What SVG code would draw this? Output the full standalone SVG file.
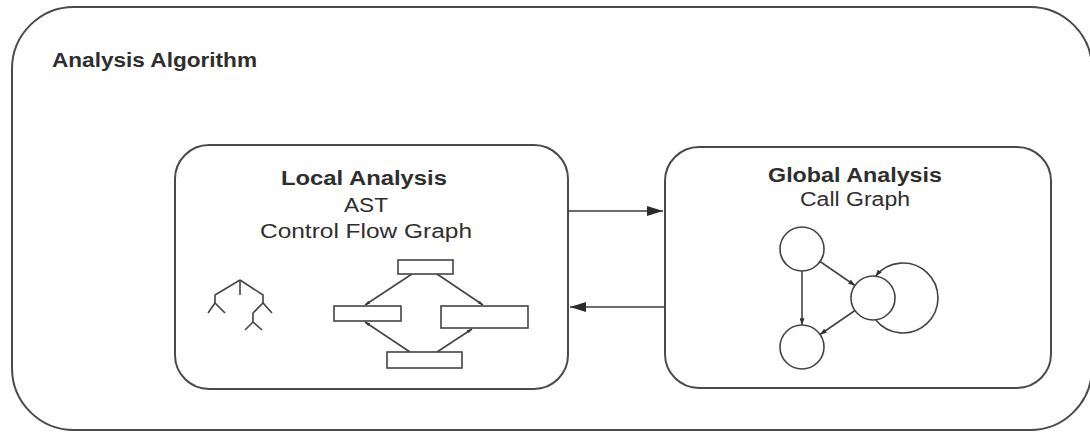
<svg xmlns="http://www.w3.org/2000/svg" width="1090" height="432" viewBox="0 0 1090 432">
  <style>
    .box { fill: none; stroke: #4a4a4a; stroke-width: 2; }
    .title { font-family: "Liberation Sans", Arial, sans-serif; font-weight: bold; font-size: 20px; fill: #2e2e2e; }
    .label { font-family: "Liberation Sans", Arial, sans-serif; font-size: 20px; fill: #2e2e2e; }
    .line { fill: none; stroke: #3c3c3c; stroke-width: 1.5; }
    .thin { fill: none; stroke: #444; stroke-width: 1.6; }
    .rect { fill: #fff; stroke: #444; stroke-width: 1.6; }
    .node { fill: #fff; stroke: #444; stroke-width: 1.6; }
  </style>
  <defs>
    <marker id="bigArrow" viewBox="0 0 16 10" refX="16" refY="5" markerWidth="16" markerHeight="10" markerUnits="userSpaceOnUse" orient="auto">
      <path d="M0,0 L16,5 L0,10 Z" fill="#2a2a2a"/>
    </marker>
    <marker id="smallArrow" viewBox="0 0 8 6" refX="8" refY="3" markerWidth="7" markerHeight="5" markerUnits="userSpaceOnUse" orient="auto">
      <path d="M0,0 L8,3 L0,6 Z" fill="#333"/>
    </marker>
    <marker id="tinyArrow" viewBox="0 0 6 4" refX="6" refY="2" markerWidth="5" markerHeight="4" markerUnits="userSpaceOnUse" orient="auto-start-reverse">
      <path d="M0,0 L6,2 L0,4 Z" fill="#333"/>
    </marker>
  </defs>

  <!-- outer container -->
  <g id="analysis-algorithm">
    <rect class="box" x="12" y="7" width="1080" height="423" rx="62" ry="62"/>
    <text class="title" x="52" y="67" textLength="205" lengthAdjust="spacingAndGlyphs">Analysis Algorithm</text>
  </g>

  <!-- local analysis panel -->
  <g id="local-analysis">
    <rect class="box" x="175" y="145" width="393" height="244" rx="34" ry="34"/>
    <text class="title" x="281" y="185" textLength="166" lengthAdjust="spacingAndGlyphs">Local Analysis</text>
    <text class="label" x="344" y="212" textLength="44" lengthAdjust="spacingAndGlyphs">AST</text>
    <text class="label" x="260" y="238" textLength="212" lengthAdjust="spacingAndGlyphs">Control Flow Graph</text>

    <!-- syntax tree sketch -->
    <g id="ast-tree" class="thin">
      <path d="M240,280 L240,295"/>
      <path d="M240,280 L215,295 L215,303"/>
      <path d="M208,313 L215,303 L225,313"/>
      <path d="M240,280 L263,295 L263,303"/>
      <path d="M272,313 L263,303 L253,313 L253,322"/>
      <path d="M245,330 L253,322 L262,330"/>
    </g>

    <!-- control flow graph sketch -->
    <g id="cfg">
      <path class="thin" d="M412,274 L365,305" marker-end="url(#tinyArrow)"/>
      <path class="thin" d="M437,274 L483,305" marker-end="url(#tinyArrow)"/>
      <path class="thin" d="M410,352 L365,322" marker-end="url(#tinyArrow)"/>
      <path class="thin" d="M437,352 L472,329" marker-end="url(#tinyArrow)"/>
      <rect class="rect" x="398" y="260" width="55" height="14"/>
      <rect class="rect" x="334" y="306" width="67" height="15"/>
      <rect class="rect" x="441" y="306" width="87" height="22"/>
      <rect class="rect" x="387" y="352" width="75" height="16"/>
    </g>
  </g>

  <!-- global analysis panel -->
  <g id="global-analysis">
    <rect class="box" x="665" y="147" width="386" height="241" rx="34" ry="34"/>
    <text class="title" x="768" y="182" textLength="174" lengthAdjust="spacingAndGlyphs">Global Analysis</text>
    <text class="label" x="800" y="206" textLength="110" lengthAdjust="spacingAndGlyphs">Call Graph</text>

    <!-- call graph sketch -->
    <g id="call-graph">
      <path class="thin" d="M802,271 L802,325" marker-end="url(#smallArrow)"/>
      <path class="thin" d="M820,261.5 L855,285.5" marker-end="url(#smallArrow)"/>
      <path class="thin" d="M855,310.5 L820,334.5" marker-end="url(#smallArrow)"/>
      <path class="thin" d="M875.6,319.8 A35,35 0 1 0 875.6,276.2" marker-end="url(#smallArrow)"/>
      <circle class="node" cx="802" cy="249" r="22"/>
      <circle class="node" cx="873" cy="298" r="22"/>
      <circle class="node" cx="802" cy="347" r="22"/>
    </g>
  </g>

  <!-- connectors between panels -->
  <g id="connectors">
    <line class="line" x1="568" y1="211" x2="663" y2="211" marker-end="url(#bigArrow)"/>
    <line class="line" x1="665" y1="307" x2="570" y2="307" marker-end="url(#bigArrow)"/>
  </g>
</svg>
